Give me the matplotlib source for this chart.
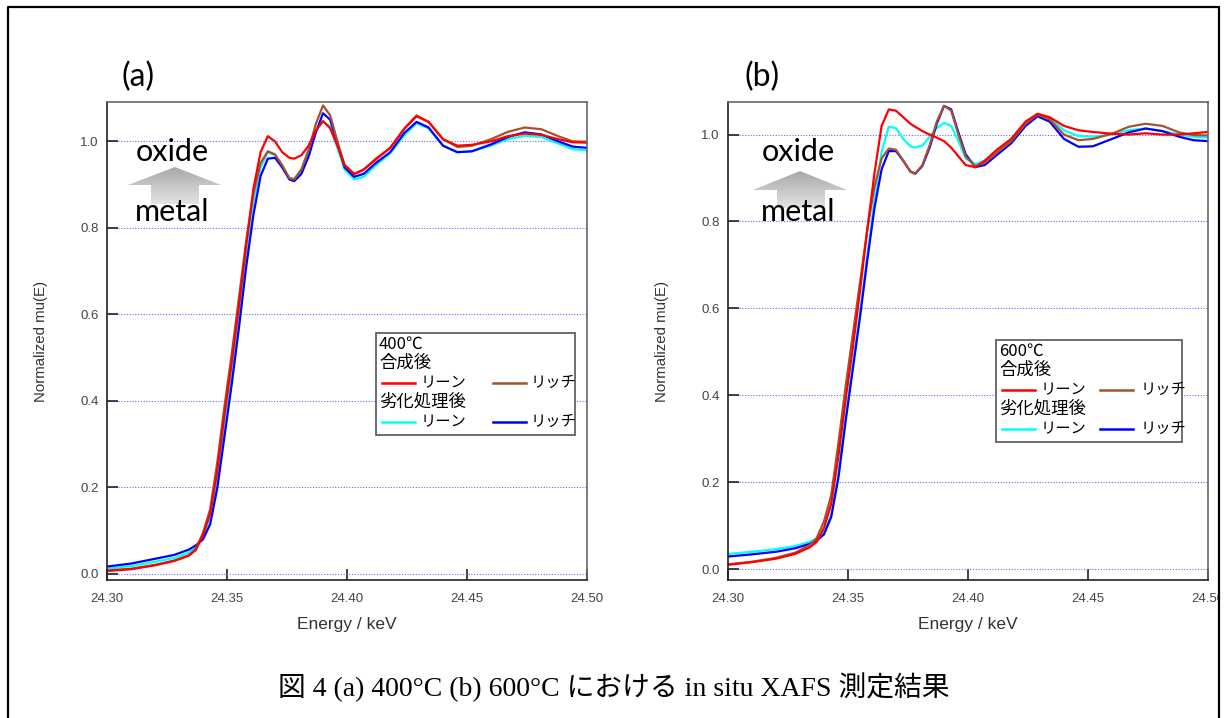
import matplotlib
matplotlib.use('Agg')
import matplotlib.pyplot as plt
import numpy as np
from matplotlib.patches import Polygon
from matplotlib.colors import LinearSegmentedColormap

# energy grid (keV) shared by all curves
energy = [24.300, 24.310, 24.320, 24.328, 24.334, 24.337, 24.340, 24.343, 24.346, 24.349,
          24.352, 24.355, 24.358, 24.361, 24.364, 24.367, 24.370, 24.373, 24.376, 24.378,
          24.381, 24.384, 24.387, 24.390, 24.393, 24.396, 24.399, 24.403, 24.407, 24.412,
          24.418, 24.424, 24.429, 24.434, 24.440, 24.446, 24.452, 24.460, 24.467, 24.474,
          24.481, 24.488, 24.494, 24.500]

# (a) 400C
a_lean_fresh = [0.007, 0.011, 0.020, 0.030, 0.042, 0.055, 0.090, 0.14, 0.24, 0.37,
                0.49, 0.62, 0.76, 0.89, 0.975, 1.012, 1.000, 0.975, 0.962, 0.960,
                0.968, 0.990, 1.025, 1.047, 1.030, 0.990, 0.945, 0.924, 0.935, 0.958,
                0.985, 1.030, 1.058, 1.045, 1.005, 0.990, 0.992, 1.000, 1.012, 1.018,
                1.015, 1.005, 0.998, 0.997]
a_rich_fresh = [0.008, 0.012, 0.021, 0.031, 0.043, 0.058, 0.095, 0.15, 0.26, 0.39,
                0.51, 0.64, 0.77, 0.88, 0.950, 0.977, 0.970, 0.945, 0.915, 0.912,
                0.935, 0.980, 1.040, 1.083, 1.060, 1.000, 0.945, 0.925, 0.935, 0.960,
                0.985, 1.030, 1.060, 1.045, 1.005, 0.987, 0.990, 1.005, 1.022, 1.032,
                1.028, 1.012, 1.000, 0.999]
a_lean_aged = [0.012, 0.018, 0.028, 0.037, 0.049, 0.062, 0.085, 0.13, 0.225, 0.35,
               0.47, 0.60, 0.74, 0.86, 0.940, 0.975, 0.968, 0.940, 0.915, 0.913,
               0.935, 0.980, 1.025, 1.045, 1.035, 0.985, 0.935, 0.912, 0.918, 0.945,
               0.972, 1.015, 1.042, 1.030, 0.990, 0.975, 0.977, 0.990, 1.005, 1.013,
               1.010, 0.995, 0.982, 0.979]
a_rich_aged = [0.017, 0.024, 0.035, 0.044, 0.056, 0.066, 0.080, 0.115, 0.20, 0.32,
               0.44, 0.57, 0.71, 0.83, 0.920, 0.960, 0.962, 0.940, 0.912, 0.908,
               0.925, 0.965, 1.020, 1.065, 1.050, 0.995, 0.940, 0.918, 0.925, 0.950,
               0.975, 1.020, 1.045, 1.032, 0.990, 0.975, 0.977, 0.993, 1.010, 1.021,
               1.016, 1.000, 0.988, 0.985]

# (b) 600C
b_lean_fresh = [0.010, 0.016, 0.024, 0.035, 0.050, 0.063, 0.095, 0.15, 0.26, 0.39,
                0.51, 0.64, 0.78, 0.91, 1.020, 1.058, 1.055, 1.040, 1.025, 1.018,
                1.008, 1.000, 0.993, 0.985, 0.970, 0.950, 0.930, 0.925, 0.940, 0.965,
                0.990, 1.030, 1.048, 1.040, 1.020, 1.010, 1.006, 1.002, 1.000, 1.003,
                1.000, 1.000, 1.003, 1.006]
b_rich_fresh = [0.011, 0.017, 0.026, 0.038, 0.055, 0.072, 0.110, 0.17, 0.29, 0.42,
                0.54, 0.66, 0.78, 0.88, 0.945, 0.968, 0.965, 0.940, 0.915, 0.910,
                0.930, 0.975, 1.030, 1.066, 1.055, 1.000, 0.950, 0.927, 0.935, 0.958,
                0.985, 1.025, 1.047, 1.035, 1.000, 0.987, 0.990, 1.002, 1.018, 1.025,
                1.020, 1.005, 0.999, 0.998]
b_lean_aged = [0.035, 0.040, 0.046, 0.053, 0.063, 0.070, 0.085, 0.125, 0.22, 0.35,
               0.47, 0.59, 0.72, 0.85, 0.960, 1.018, 1.015, 0.990, 0.973, 0.970,
               0.975, 0.995, 1.015, 1.027, 1.020, 0.985, 0.945, 0.932, 0.940, 0.962,
               0.990, 1.028, 1.045, 1.038, 1.010, 0.997, 0.995, 1.000, 1.010, 1.014,
               1.008, 1.000, 0.995, 0.993]
b_rich_aged = [0.029, 0.034, 0.040, 0.048, 0.058, 0.066, 0.080, 0.12, 0.21, 0.34,
               0.46, 0.58, 0.71, 0.83, 0.920, 0.962, 0.962, 0.940, 0.915, 0.910,
               0.928, 0.970, 1.025, 1.066, 1.058, 1.005, 0.955, 0.925, 0.930, 0.953,
               0.980, 1.020, 1.042, 1.030, 0.990, 0.972, 0.973, 0.990, 1.005, 1.014,
               1.008, 0.995, 0.987, 0.985]

temps = ['400℃', '600℃']
panel_tags = ['(a)', '(b)']
xticks = [24.30, 24.35, 24.40, 24.45, 24.50]
yticks = [0.0, 0.2, 0.4, 0.6, 0.8, 1.0]
caption = '図 4 (a) 400°C (b) 600°C における in situ XAFS 測定結果'
c_lean_fresh, c_rich_fresh, c_lean_aged, c_rich_aged = '#ff0000', '#a5522d', '#00ffff', '#0000ff'

W, H = 1226, 718
fig = plt.figure(figsize=(W / 100, H / 100), dpi=100)

def px(x0, y0, x1, y1):
    return [x0 / W, 1 - y1 / H, (x1 - x0) / W, (y1 - y0) / H]

jp = ['Noto Sans CJK JP', 'DejaVu Sans']
tickfont = 'Liberation Sans'

panels = [
    (px(107, 102, 587, 580), (-0.014, 1.091), [a_lean_fresh, a_rich_fresh, a_lean_aged, a_rich_aged]),
    (px(728, 102, 1208, 580), (-0.025, 1.075), [b_lean_fresh, b_rich_fresh, b_lean_aged, b_rich_aged]),
]
for rect, ylim, series in panels:
    ax = fig.add_axes(rect)
    lf, rf, la, ra = series
    ax.plot(energy, la, color=c_lean_aged, lw=1.6)
    ax.plot(energy, ra, color=c_rich_aged, lw=1.6)
    ax.plot(energy, rf, color=c_rich_fresh, lw=1.6)
    ax.plot(energy, lf, color=c_lean_fresh, lw=1.6)
    ax.set_xlim(24.30, 24.50)
    ax.set_ylim(*ylim)
    ax.set_xticks(xticks)
    ax.set_xticklabels(['%.2f' % v for v in xticks], fontfamily=tickfont)
    ax.set_yticks(yticks)
    ax.set_yticklabels(['%.1f' % v for v in yticks], fontfamily=tickfont)
    ax.tick_params(direction='in', length=8, width=1.2, colors='#222222',
                   labelcolor='#444444', labelsize=9.5)
    ax.tick_params(axis='x', pad=9)
    ax.tick_params(axis='y', pad=6)
    ax.yaxis.grid(True, color='#6666ff', ls=(0, (1, 1.5)), lw=0.8)
    for s in ax.spines.values():
        s.set_color('#666666')
        s.set_linewidth(1.2)
    ax.spines['left'].set_color('#222222')
    ax.spines['bottom'].set_color('#222222')
    ax.set_xlabel('Energy / keV', fontfamily=tickfont, fontsize=12.5, color='#333333', labelpad=9)
    ax.set_ylabel('Normalized mu(E)', fontfamily=tickfont, fontsize=10.8, color='#333333', labelpad=23)

# overlay in pixel coordinates for annotations
ov = fig.add_axes([0, 0, 1, 1])
ov.set_xlim(0, W)
ov.set_ylim(H, 0)
ov.axis('off')
ov.patch.set_alpha(0)

# outer frame (no bottom edge)
ov.plot([8, 8, 1219, 1219], [H + 5, 7, 7, H + 5], color='black', lw=1.6, clip_on=False, zorder=6)
ov.fill_between([1220, W], 0, H, color='white', zorder=5)

grad = np.linspace(0, 1, 100).reshape(-1, 1)
gray_cmap = LinearSegmentedColormap.from_list('g', ['#a8a8a8', '#e4e4e4'])
for tag, cx, xo, arrow in [
    (panel_tags[0], 138, 172, (175, 167, 128, 221, 185, 151, 199, 204)),
    (panel_tags[1], 762, 798, (800, 171, 753, 847, 190, 777, 825, 208)),
]:
    ov.text(cx, 77, tag, fontsize=23, fontfamily='Lato', ha='center', va='center')
    tip_x, tip_y, hl, hr, hb, sl, sr, sb = arrow
    verts = [(tip_x, tip_y), (hr, hb), (sr, hb), (sr, sb), (sl, sb), (sl, hb), (hl, hb)]
    poly = Polygon(verts, closed=True, facecolor='none', edgecolor='none')
    ov.add_patch(poly)
    im = ov.imshow(grad, cmap=gray_cmap, extent=(hl, hr, sb, tip_y), aspect='auto', zorder=2)
    im.set_clip_path(poly)
    ov.text(xo, 152, 'oxide', fontsize=22, fontfamily='Lato', ha='center', va='center', zorder=3)
    ov.text(xo, 212, 'metal', fontsize=22, fontfamily='Lato', ha='center', va='center', zorder=3)

# legends drawn by hand: header rows span both columns
leg_info = [
    ((376, 333, 575, 435), temps[0], (382, 415, 421), (493, 526, 531)),
    ((996, 340, 1182, 442), temps[1], (1002, 1035, 1041), (1100, 1133, 1141)),
]
rows = [('合成後', c_lean_fresh, c_rich_fresh), ('劣化処理後', c_lean_aged, c_rich_aged)]
for (lx0, ly0, lx1, ly1), temp, col1, col2 in leg_info:
    ov.add_patch(plt.Rectangle((lx0, ly0), lx1 - lx0, ly1 - ly0, facecolor='white',
                               edgecolor='#555555', lw=1.2, zorder=4))
    ov.text(lx0 + 3, ly0 + 11, temp, fontsize=12, family=jp, va='center', zorder=6)
    for r, (head, ca, cb) in enumerate(rows):
        yh = ly0 + 30 + r * 39
        yl = yh + 19.5
        ov.text(lx0 + 3, yh, head, fontsize=12.5, family=jp, va='center', zorder=6)
        ov.plot(col1[:2], [yl, yl], color=ca, lw=1.8, zorder=6)
        ov.text(col1[2], yl, 'リーン', fontsize=11, family=jp, va='center', zorder=6)
        ov.plot(col2[:2], [yl, yl], color=cb, lw=1.8, zorder=6)
        ov.text(col2[2], yl, 'リッチ', fontsize=11, family=jp, va='center', zorder=6)

ov.text(614, 687, caption, fontsize=20, family=['Liberation Serif', 'Noto Sans CJK JP'],
        ha='center', va='center')

fig.savefig('out.png', dpi=100)
